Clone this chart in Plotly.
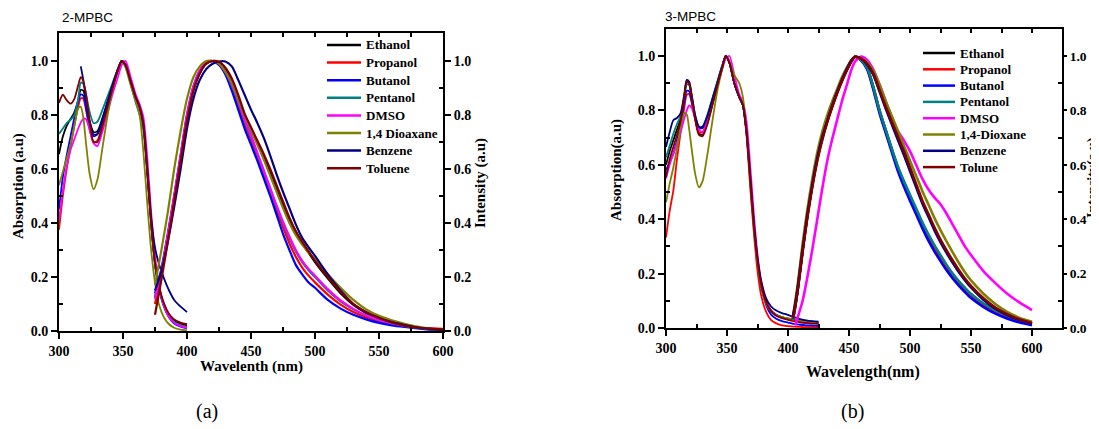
import plotly.graph_objects as go

# browser window 1099x429; the page body has an 8px margin, so the figure is drawn 8px in
WIN_W, WIN_H = 1099, 429
OFF = 8
W, H = WIN_W - OFF, WIN_H - OFF

SOLVENTS_A = ["Ethanol", "Propanol", "Butanol", "Pentanol", "DMSO", "1,4 Dioaxane", "Benzene", "Toluene"]
SOLVENTS_B = ["Ethanol", "Propanol", "Butanol", "Pentanol", "DMSO", "1,4-Dioxane", "Benzene", "Tolune"]
COLORS = ["#000000", "#FF0000", "#0000FF", "#008080", "#FF00FF", "#808000", "#000080", "#800000"]

# ---------------- Panel (a) 2-MPBC ----------------
ABS_WL_A = [300, 303, 306, 309, 312, 315, 317, 319, 321, 324, 327, 330, 334, 338, 342, 346, 349,
            352, 356, 360, 363, 366, 369, 372, 375, 378, 382, 386, 390, 395, 400]
abs_a_ethanol = [0.655, 0.72, 0.76, 0.785, 0.81, 0.855, 0.893, 0.89, 0.85, 0.775, 0.737, 0.74, 0.79, 0.85, 0.91, 0.97, 1.0,
                 0.985, 0.925, 0.865, 0.83, 0.76, 0.59, 0.40, 0.25, 0.165, 0.097, 0.058, 0.038, 0.027, 0.02]
abs_a_propanol = [0.375, 0.50, 0.60, 0.68, 0.76, 0.83, 0.862, 0.86, 0.82, 0.745, 0.70, 0.705, 0.765, 0.835, 0.905, 0.965, 1.0,
                  0.985, 0.925, 0.865, 0.83, 0.76, 0.59, 0.40, 0.25, 0.163, 0.093, 0.053, 0.032, 0.02, 0.015]
abs_a_butanol = [0.45, 0.57, 0.65, 0.72, 0.79, 0.85, 0.876, 0.872, 0.83, 0.76, 0.722, 0.728, 0.78, 0.845, 0.91, 0.965, 1.0,
                 0.985, 0.925, 0.865, 0.83, 0.76, 0.59, 0.40, 0.248, 0.16, 0.09, 0.05, 0.028, 0.016, 0.01]
abs_a_pentanol = [0.73, 0.75, 0.77, 0.782, 0.80, 0.86, 0.92, 0.915, 0.88, 0.81, 0.77, 0.775, 0.82, 0.87, 0.92, 0.97, 1.0,
                  0.98, 0.915, 0.845, 0.80, 0.74, 0.585, 0.40, 0.25, 0.162, 0.093, 0.053, 0.033, 0.021, 0.015]
abs_a_dmso = [0.41, 0.52, 0.61, 0.67, 0.71, 0.75, 0.772, 0.786, 0.785, 0.745, 0.695, 0.685, 0.74, 0.81, 0.88, 0.94, 0.985,
              1.0, 0.94, 0.875, 0.84, 0.79, 0.64, 0.44, 0.28, 0.175, 0.095, 0.052, 0.03, 0.018, 0.012]
abs_a_dioxane = [0.54, 0.59, 0.64, 0.69, 0.76, 0.825, 0.83, 0.79, 0.70, 0.58, 0.525, 0.56, 0.68, 0.80, 0.90, 0.97, 1.0,
                 0.975, 0.91, 0.85, 0.80, 0.66, 0.47, 0.30, 0.18, 0.10, 0.05, 0.025, 0.012, 0.005, 0.002]
abs_a_benzene = [None, None, None, None, None, None, 0.98, 0.93, 0.86, 0.775, 0.728, 0.73, 0.785, 0.85, 0.915, 0.97, 1.0,
                 0.985, 0.925, 0.865, 0.83, 0.765, 0.60, 0.42, 0.31, 0.25, 0.195, 0.15, 0.115, 0.09, 0.07]
abs_a_toluene = [0.845, 0.875, 0.855, 0.842, 0.86, 0.91, 0.94, 0.925, 0.88, 0.775, 0.70, 0.70, 0.76, 0.83, 0.90, 0.965, 1.0,
                 0.985, 0.925, 0.865, 0.83, 0.76, 0.59, 0.40, 0.255, 0.17, 0.103, 0.063, 0.043, 0.031, 0.025]

EM_WL_A = [375, 380, 385, 390, 395, 400, 405, 410, 415, 420, 425, 430, 435, 440, 445, 450, 455, 460,
           465, 470, 475, 480, 485, 490, 495, 500, 510, 520, 530, 540, 550, 560, 570, 580, 590, 600]
em_a_ethanol = [0.12, 0.22, 0.35, 0.49, 0.64, 0.785, 0.895, 0.955, 0.99, 1.0, 0.995, 0.97, 0.925, 0.865, 0.795, 0.745, 0.695, 0.645,
                0.59, 0.53, 0.47, 0.415, 0.365, 0.325, 0.29, 0.255, 0.195, 0.14, 0.097, 0.067, 0.046, 0.031, 0.02, 0.012, 0.007, 0.004]
em_a_propanol = [0.10, 0.21, 0.345, 0.49, 0.64, 0.79, 0.90, 0.96, 0.99, 1.0, 0.99, 0.955, 0.905, 0.84, 0.77, 0.71, 0.645, 0.58,
                 0.515, 0.445, 0.385, 0.325, 0.275, 0.235, 0.205, 0.18, 0.135, 0.098, 0.07, 0.05, 0.036, 0.025, 0.017, 0.012, 0.01, 0.008]
em_a_butanol = [0.14, 0.23, 0.36, 0.50, 0.65, 0.80, 0.905, 0.965, 0.995, 1.0, 0.985, 0.95, 0.89, 0.82, 0.75, 0.69, 0.63, 0.565,
                0.50, 0.43, 0.36, 0.30, 0.245, 0.21, 0.18, 0.16, 0.115, 0.083, 0.06, 0.043, 0.03, 0.021, 0.015, 0.01, 0.005, 0.002]
em_a_pentanol = [0.13, 0.22, 0.35, 0.49, 0.64, 0.79, 0.90, 0.96, 0.99, 1.0, 0.99, 0.96, 0.91, 0.85, 0.78, 0.72, 0.655, 0.59,
                 0.525, 0.46, 0.40, 0.345, 0.295, 0.255, 0.225, 0.20, 0.15, 0.11, 0.08, 0.057, 0.04, 0.028, 0.019, 0.012, 0.007, 0.004]
em_a_dmso = [0.12, 0.22, 0.355, 0.50, 0.65, 0.80, 0.905, 0.965, 0.995, 1.0, 0.99, 0.96, 0.915, 0.855, 0.785, 0.725, 0.66, 0.595,
             0.53, 0.465, 0.405, 0.35, 0.30, 0.26, 0.23, 0.205, 0.155, 0.113, 0.082, 0.058, 0.041, 0.029, 0.02, 0.013, 0.009, 0.006]
em_a_dioxane = [0.17, 0.30, 0.44, 0.60, 0.74, 0.86, 0.94, 0.98, 1.0, 1.0, 0.99, 0.96, 0.92, 0.86, 0.80, 0.745, 0.69, 0.635,
                0.575, 0.515, 0.455, 0.40, 0.355, 0.32, 0.29, 0.265, 0.21, 0.16, 0.115, 0.08, 0.056, 0.04, 0.027, 0.016, 0.009, 0.005]
em_a_benzene = [0.15, 0.22, 0.33, 0.46, 0.60, 0.75, 0.86, 0.93, 0.97, 0.99, 0.998, 0.998, 0.98, 0.93, 0.875, 0.82, 0.77, 0.715,
                0.65, 0.58, 0.515, 0.455, 0.395, 0.345, 0.31, 0.278, 0.21, 0.15, 0.10, 0.07, 0.048, 0.033, 0.022, 0.013, 0.008, 0.003]
em_a_toluene = [0.06, 0.19, 0.33, 0.48, 0.63, 0.78, 0.89, 0.955, 0.99, 1.0, 0.997, 0.975, 0.935, 0.875, 0.805, 0.755, 0.705, 0.655,
                0.60, 0.54, 0.48, 0.42, 0.37, 0.33, 0.295, 0.26, 0.20, 0.145, 0.10, 0.07, 0.048, 0.032, 0.02, 0.013, 0.009, 0.006]

# ---------------- Panel (b) 3-MPBC ----------------
ABS_WL_B = [300, 303, 306, 309, 312, 315, 317, 319, 321, 324, 327, 330, 334, 338, 342, 346, 349, 352,
            356, 360, 363, 366, 369, 372, 375, 378, 382, 386, 390, 395, 400, 405, 410, 415, 420, 425]
abs_b_ethanol = [0.60, 0.65, 0.69, 0.73, 0.77, 0.85, 0.905, 0.898, 0.85, 0.77, 0.715, 0.71, 0.755, 0.82, 0.89, 0.955, 1.0, 0.975,
                 0.90, 0.85, 0.82, 0.72, 0.55, 0.38, 0.25, 0.16, 0.095, 0.065, 0.05, 0.04, 0.034, 0.03, 0.027, 0.024, 0.022, 0.02]
abs_b_propanol = [0.333, 0.43, 0.505, 0.62, 0.72, 0.81, 0.857, 0.86, 0.83, 0.765, 0.72, 0.72, 0.77, 0.835, 0.90, 0.96, 1.0, 0.975,
                  0.90, 0.85, 0.82, 0.71, 0.52, 0.35, 0.21, 0.12, 0.06, 0.03, 0.018, 0.01, 0.007, 0.005, 0.004, 0.003, 0.003, 0.003]
abs_b_butanol = [0.58, 0.61, 0.64, 0.69, 0.75, 0.83, 0.872, 0.87, 0.835, 0.77, 0.735, 0.735, 0.78, 0.84, 0.90, 0.96, 1.0, 0.975,
                 0.90, 0.85, 0.82, 0.72, 0.55, 0.375, 0.245, 0.155, 0.085, 0.05, 0.035, 0.025, 0.02, 0.015, 0.012, 0.01, 0.009, 0.008]
abs_b_pentanol = [0.628, 0.67, 0.714, 0.75, 0.78, 0.85, 0.895, 0.893, 0.855, 0.78, 0.74, 0.74, 0.785, 0.845, 0.905, 0.965, 1.0, 0.975,
                  0.90, 0.85, 0.82, 0.72, 0.55, 0.38, 0.25, 0.16, 0.095, 0.065, 0.05, 0.04, 0.034, 0.03, 0.027, 0.024, 0.022, 0.02]
abs_b_dmso = [0.55, 0.60, 0.64, 0.68, 0.72, 0.77, 0.80, 0.818, 0.81, 0.77, 0.73, 0.72, 0.765, 0.83, 0.89, 0.95, 0.99, 1.0,
              0.93, 0.86, 0.83, 0.76, 0.60, 0.42, 0.27, 0.17, 0.10, 0.065, 0.048, 0.038, 0.032, 0.027, 0.024, 0.021, 0.019, 0.017]
abs_b_dioxane = [0.462, 0.53, 0.59, 0.66, 0.74, 0.79, 0.785, 0.73, 0.66, 0.565, 0.517, 0.54, 0.64, 0.76, 0.87, 0.95, 1.0, 0.98,
                 0.93, 0.90, 0.85, 0.72, 0.54, 0.37, 0.24, 0.155, 0.09, 0.062, 0.048, 0.04, 0.035, 0.031, 0.028, 0.025, 0.023, 0.021]
abs_b_benzene = [0.665, 0.72, 0.764, 0.772, 0.79, 0.86, 0.912, 0.905, 0.86, 0.78, 0.74, 0.74, 0.78, 0.84, 0.90, 0.96, 1.0, 0.975,
                 0.90, 0.85, 0.82, 0.725, 0.56, 0.39, 0.26, 0.175, 0.11, 0.08, 0.065, 0.055, 0.048, 0.04, 0.033, 0.028, 0.025, 0.023]
abs_b_toluene = [0.554, 0.62, 0.665, 0.71, 0.76, 0.85, 0.905, 0.898, 0.85, 0.765, 0.71, 0.705, 0.75, 0.82, 0.89, 0.955, 1.0, 0.975,
                 0.90, 0.85, 0.82, 0.72, 0.55, 0.38, 0.25, 0.16, 0.095, 0.063, 0.046, 0.036, 0.03, 0.025, 0.021, 0.018, 0.016, 0.015]

EM_WL_B = [404, 406, 408, 412, 416, 420, 424, 428, 432, 436, 440, 444, 448, 452, 455, 460, 465, 470, 475, 480,
           485, 490, 495, 500, 505, 510, 515, 520, 525, 530, 535, 540, 545, 550, 560, 570, 580, 590, 600]
em_b_ethanol = [0.03, 0.085, 0.145, 0.29, 0.42, 0.53, 0.625, 0.70, 0.76, 0.815, 0.865, 0.91, 0.95, 0.983, 0.997, 0.985, 0.955, 0.885, 0.80, 0.728,
                0.658, 0.59, 0.533, 0.482, 0.432, 0.383, 0.337, 0.297, 0.26, 0.224, 0.194, 0.167, 0.144, 0.122, 0.088, 0.062, 0.043, 0.027, 0.016]
em_b_propanol = [0.025, 0.08, 0.14, 0.285, 0.415, 0.525, 0.62, 0.695, 0.755, 0.81, 0.86, 0.905, 0.948, 0.982, 0.997, 0.985, 0.955, 0.88, 0.795, 0.725,
                 0.655, 0.585, 0.53, 0.48, 0.43, 0.38, 0.335, 0.295, 0.258, 0.222, 0.192, 0.165, 0.142, 0.12, 0.086, 0.06, 0.041, 0.026, 0.015]
em_b_butanol = [0.03, 0.085, 0.145, 0.29, 0.42, 0.53, 0.625, 0.70, 0.76, 0.815, 0.865, 0.91, 0.95, 0.983, 0.997, 0.983, 0.95, 0.875, 0.79, 0.718,
                0.648, 0.578, 0.52, 0.468, 0.418, 0.368, 0.322, 0.282, 0.246, 0.212, 0.182, 0.156, 0.132, 0.11, 0.078, 0.053, 0.034, 0.02, 0.01]
em_b_pentanol = [0.03, 0.085, 0.145, 0.29, 0.42, 0.53, 0.625, 0.70, 0.76, 0.815, 0.865, 0.91, 0.95, 0.983, 0.997, 0.985, 0.955, 0.885, 0.80, 0.73,
                 0.66, 0.595, 0.54, 0.49, 0.44, 0.39, 0.345, 0.305, 0.268, 0.232, 0.2, 0.172, 0.148, 0.126, 0.091, 0.065, 0.045, 0.029, 0.018]
em_b_dmso = [None, 0.01, 0.04, 0.10, 0.19, 0.29, 0.40, 0.51, 0.61, 0.69, 0.76, 0.83, 0.89, 0.95, 0.98, 0.998, 0.985, 0.95, 0.895, 0.835,
             0.775, 0.725, 0.69, 0.65, 0.60, 0.55, 0.51, 0.48, 0.455, 0.42, 0.38, 0.34, 0.30, 0.268, 0.21, 0.165, 0.125, 0.093, 0.066]
em_b_dioxane = [0.04, 0.10, 0.16, 0.31, 0.44, 0.55, 0.645, 0.72, 0.78, 0.83, 0.875, 0.92, 0.955, 0.985, 0.998, 0.99, 0.975, 0.945, 0.895, 0.835,
                0.78, 0.725, 0.67, 0.615, 0.56, 0.505, 0.455, 0.405, 0.36, 0.318, 0.278, 0.24, 0.205, 0.175, 0.127, 0.088, 0.058, 0.037, 0.023]
em_b_benzene = [0.042, 0.09, 0.15, 0.29, 0.42, 0.53, 0.625, 0.70, 0.76, 0.815, 0.865, 0.91, 0.95, 0.983, 0.997, 0.99, 0.968, 0.93, 0.87, 0.808,
                0.75, 0.693, 0.637, 0.577, 0.518, 0.46, 0.41, 0.36, 0.316, 0.276, 0.24, 0.206, 0.176, 0.149, 0.105, 0.071, 0.047, 0.029, 0.017]
em_b_toluene = [0.035, 0.08, 0.14, 0.28, 0.41, 0.52, 0.615, 0.69, 0.755, 0.81, 0.86, 0.905, 0.945, 0.98, 0.997, 0.99, 0.97, 0.935, 0.875, 0.815,
                0.76, 0.705, 0.65, 0.59, 0.53, 0.47, 0.42, 0.37, 0.325, 0.285, 0.248, 0.213, 0.182, 0.155, 0.11, 0.075, 0.05, 0.031, 0.018]

ABS_A = [abs_a_ethanol, abs_a_propanol, abs_a_butanol, abs_a_pentanol, abs_a_dmso, abs_a_dioxane, abs_a_benzene, abs_a_toluene]
EM_A = [em_a_ethanol, em_a_propanol, em_a_butanol, em_a_pentanol, em_a_dmso, em_a_dioxane, em_a_benzene, em_a_toluene]
ABS_B = [abs_b_ethanol, abs_b_propanol, abs_b_butanol, abs_b_pentanol, abs_b_dmso, abs_b_dioxane, abs_b_benzene, abs_b_toluene]
EM_B = [em_b_ethanol, em_b_propanol, em_b_butanol, em_b_pentanol, em_b_dmso, em_b_dioxane, em_b_benzene, em_b_toluene]

X_TICKS = [300, 350, 400, 450, 500, 550, 600]
X_TICK_TEXT = ["300", "350", "400", "450", "500", "550", "600"]
Y_TICKS = [0.0, 0.2, 0.4, 0.6, 0.8, 1.0]
Y_TICK_TEXT = ["0.0", "0.2", "0.4", "0.6", "0.8", "1.0"]

SERIF = "Liberation Serif"
tickfont = dict(family=SERIF, size=14, color="black")

fig = go.Figure()

def add_panel(wl_abs, abs_list, wl_em, em_list, names, xa, ya, ya2, lw_em):
    for i, name in enumerate(names):
        fig.add_trace(go.Scatter(
            x=wl_abs, y=abs_list[i], mode="lines", name=name,
            line=dict(color=COLORS[i], width=1.8, shape="spline", smoothing=0.7),
            xaxis=xa, yaxis=ya, showlegend=False, connectgaps=False))
    for i, name in enumerate(names):
        fig.add_trace(go.Scatter(
            x=wl_em, y=em_list[i], mode="lines", name=name,
            line=dict(color=COLORS[i], width=lw_em, shape="spline", smoothing=0.7),
            xaxis=xa, yaxis=ya2, showlegend=False, connectgaps=False))

add_panel(ABS_WL_A, ABS_A, EM_WL_A, EM_A, SOLVENTS_A, "x", "y", "y2", 2.2)
add_panel(ABS_WL_B, ABS_B, EM_WL_B, EM_B, SOLVENTS_B, "x2", "y3", "y4", 2.6)

# invisible helpers so the top tick axes are created
fig.add_trace(go.Scatter(x=[None], y=[None], xaxis="x3", yaxis="y", showlegend=False, hoverinfo="skip"))
fig.add_trace(go.Scatter(x=[None], y=[None], xaxis="x4", yaxis="y3", showlegend=False, hoverinfo="skip"))

def px_x(p):
    return (p - OFF) / W

def px_y(p):
    return 1 - (p - OFF) / H

# panel geometry (window pixels)
A_L, A_R, A_T, A_B = 59, 443, 33, 331
B_L, B_R, B_T, B_B = 666, 1062, 29, 328
A_YMAX = (A_B - A_T) / 270.0
B_YMAX = (B_B - B_T) / 272.0
B_XMAX = 300 + (B_R - B_L) / ((1032 - 666) / 300.0)

def bold(lst):
    return ["<b>%s</b>" % s for s in lst]

def xaxis_cfg(dom, anchor, rng):
    return dict(domain=dom, anchor=anchor, range=rng, tickmode="array", tickvals=X_TICKS,
                ticktext=bold(X_TICK_TEXT), automargin=False,
                ticks="outside", ticklen=6, tickwidth=1.5, tickcolor="black",
                showline=True, linewidth=2, linecolor="black", mirror=True,
                showgrid=False, zeroline=False, tickfont=tickfont,
                minor=dict(tickmode="array", tickvals=[325, 375, 425, 475, 525, 575],
                           ticks="inside", ticklen=4, tickwidth=1.5, tickcolor="black", showgrid=False))

def top_cfg(overlay, anchor, rng):
    return dict(overlaying=overlay, anchor=anchor, side="top", range=rng, tickmode="array",
                tickvals=[300, 325, 350, 375, 400, 425, 450, 475, 500, 525, 550, 575, 600],
                ticks="inside", ticklen=4, tickwidth=1.5, tickcolor="black", automargin=False,
                showticklabels=False, showline=False, showgrid=False, zeroline=False)

def yaxis_cfg(dom, anchor, rng, side="left", overlay=None, ticklen=6, font=tickfont):
    d = dict(anchor=anchor, range=rng, tickmode="array", tickvals=Y_TICKS, ticktext=bold(Y_TICK_TEXT),
             ticks="outside", ticklen=ticklen, tickwidth=1.5, tickcolor="black", automargin=False,
             showline=True, linewidth=2, linecolor="black", side=side,
             showgrid=False, zeroline=False, tickfont=font,
             minor=dict(tickmode="array", tickvals=[0.1, 0.3, 0.5, 0.7, 0.9],
                        ticks="inside", ticklen=4, tickwidth=1.5, tickcolor="black", showgrid=False))
    if overlay:
        d["overlaying"] = overlay
    else:
        d["domain"] = dom
    return d

domA_x = [px_x(A_L), px_x(A_R)]
domA_y = [px_y(A_B), px_y(A_T)]
domB_x = [px_x(B_L), px_x(B_R)]
domB_y = [px_y(B_B), px_y(B_T)]

fig.update_layout(
    width=W, height=H, autosize=False,
    margin=dict(l=0, r=0, t=0, b=0),
    paper_bgcolor="white", plot_bgcolor="white",
    showlegend=False,
    xaxis=xaxis_cfg(domA_x, "y", [300, 600]),
    xaxis3=top_cfg("x", "y", [300, 600]),
    yaxis=yaxis_cfg(domA_y, "x", [0, A_YMAX]),
    yaxis2=yaxis_cfg(domA_y, "x", [0, A_YMAX], side="right", overlay="y"),
    xaxis2=xaxis_cfg(domB_x, "y3", [300, B_XMAX]),
    xaxis4=top_cfg("x2", "y3", [300, B_XMAX]),
    yaxis3=yaxis_cfg(domB_y, "x2", [0, B_YMAX]),
    yaxis4=yaxis_cfg(domB_y, "x2", [0, B_YMAX], side="right", overlay="y3", ticklen=3,
                     font=dict(family=SERIF, size=13.5, color="black")),
)

# manual legends (line sample + label), one per panel
shapes = []
ann = []
legend_font = dict(family=SERIF, size=13, color="black")

def add_legend(names, x_line0, x_line1, x_text, y_first, step):
    for i, name in enumerate(names):
        yy = y_first + i * step
        shapes.append(dict(type="line", xref="paper", yref="paper",
                           x0=px_x(x_line0), x1=px_x(x_line1), y0=px_y(yy), y1=px_y(yy),
                           line=dict(color=COLORS[i], width=2.5)))
        ann.append(dict(text="<b>%s</b>" % name, x=px_x(x_text), y=px_y(yy), xanchor="left",
                        yanchor="middle", font=legend_font))

add_legend(SOLVENTS_A, 327, 361, 364, 45, 17.6)
add_legend(SOLVENTS_B, 923, 955, 958, 53, 16.3)

title_font = dict(family=SERIF, size=15, color="black")
ann += [
    dict(text="2-MPBC", x=px_x(60), y=px_y(18), xanchor="left", yanchor="middle",
         font=dict(family="Liberation Sans", size=13.5, color="black")),
    dict(text="3-MPBC", x=px_x(663), y=px_y(17), xanchor="left", yanchor="middle",
         font=dict(family="Liberation Sans", size=13.5, color="black")),
    dict(text="<b>Absorption (a.u)</b>", x=px_x(18), y=px_y(186), textangle=-90, xanchor="center", yanchor="middle", font=title_font),
    dict(text="<b>Intensity (a.u)</b>", x=px_x(480), y=px_y(183), textangle=-90, xanchor="center", yanchor="middle", font=title_font),
    dict(text="<b>Wavelenth (nm)</b>", x=px_x(251), y=px_y(366), xanchor="center", yanchor="middle", font=title_font),
    dict(text="<b>Absorption(a.u)</b>", x=px_x(617), y=px_y(170), textangle=-90, xanchor="center", yanchor="middle", font=title_font),
    dict(text="<b>Intensity(a.u)</b>", x=px_x(1093), y=px_y(178), textangle=-90, xanchor="center", yanchor="middle",
         font=dict(family=SERIF, size=14, color="black")),
    dict(text="<b>Wavelength(nm)</b>", x=px_x(863), y=px_y(372), xanchor="center", yanchor="middle",
         font=dict(family=SERIF, size=16, color="black")),
    dict(text="(a)", x=px_x(207), y=px_y(411), xanchor="center", yanchor="middle",
         font=dict(family=SERIF, size=20, color="black")),
    dict(text="(b)", x=px_x(852), y=px_y(411), xanchor="center", yanchor="middle",
         font=dict(family=SERIF, size=20, color="black")),
]
for a in ann:
    a.update(xref="paper", yref="paper", showarrow=False)
fig.update_layout(annotations=ann, shapes=shapes)

fig.write_html("out.html")
